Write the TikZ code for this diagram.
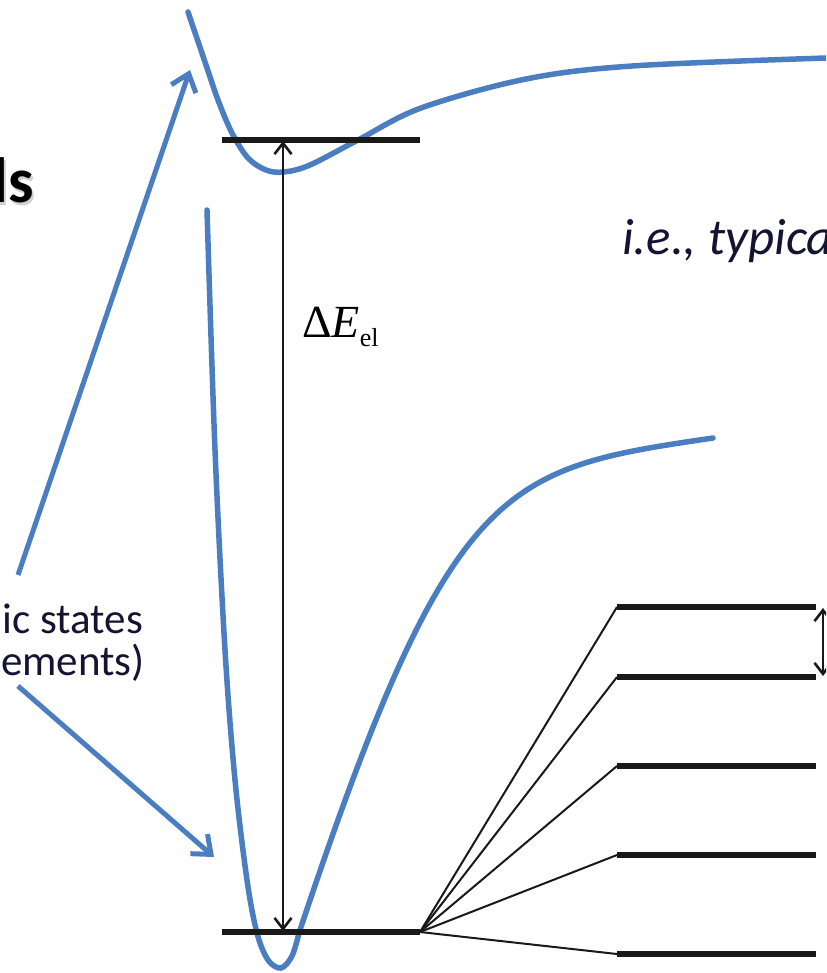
\documentclass[tikz,border=0pt]{standalone}
\usepackage{fontspec}
\setmainfont{Carlito}
\newfontfamily\timesfont{Liberation Serif}
\usetikzlibrary{arrows.meta}
\definecolor{potblue}{RGB}{74,126,193}
\definecolor{txtnavy}{RGB}{20,20,50}

\begin{document}
\begin{tikzpicture}[x=1pt,y=-1pt,
  pot/.style={potblue,line width=5.5pt,line cap=round,smooth,tension=0.55},
  level/.style={black!90,line width=5.5pt},
  fan/.style={black!90,line width=2pt},
  gap/.style={black!90,line width=2.6pt,{Straight Barb[length=11pt,width=17pt]}-{Straight Barb[length=11pt,width=17pt]}},
  pointer/.style={potblue,line width=5pt,-{Straight Barb[length=16pt,width=26pt]}},
  lbl/.style={inner sep=0pt,text=txtnavy,font=\fontsize{43}{48}\selectfont}]
  \useasboundingbox (0,0) rectangle (826,973);
  \clip (0,0) rectangle (826,973);
  % potential curves: excited (top) and ground (bottom)
  \draw[pot] plot coordinates {(188,12) (205,62) (218,100) (232,133) (248,158)
    (266,170) (284,172) (310,165) (358,140) (421,108) (526,79) (632,66) (826,58)};
  \draw[pot] plot coordinates {(207,210) (215,450) (225,650) (235,780) (247,880)
    (257,933) (268,960) (281,968) (292,956) (299,933)}
    .. controls (451,477) and (503,469) .. (713,438);
  % electronic levels and the gap between them
  \coordinate (exL) at (222,140); \coordinate (exR) at (420,140);
  \coordinate (gsL) at (222,932); \coordinate (gsR) at (420,932);
  \draw[level] (exL) -- (exR);
  \draw[level] (gsL) -- (gsR);
  \coordinate (gapTop) at (283,141); \coordinate (gapBot) at (283,931);
  \draw[gap] (gapBot) -- (gapTop);
  \node[lbl,anchor=base west,text=black,font=\fontsize{46}{50}\timesfont] (dE) at (302,337)
    {Δ\textit{E}\textsubscript{\fontsize{26}{28}\selectfont el}};
  % split-off levels on the right, fanned out from the ground level
  \foreach \y [count=\i] in {607,677,766,855,954} {
    \coordinate (sL\i) at (617,\y);
    \coordinate (sR\i) at (816,\y);
    \draw[level] (sL\i) -- (sR\i);
    \draw[fan] (gsR) -- (sL\i);
  }
  \coordinate (spTop) at (823,608); \coordinate (spBot) at (823,676);
  \draw[gap] (spTop) -- (spBot);
  % blue pointers from the label to both curves
  \coordinate (ptA) at (18,575); \coordinate (tipA) at (190,70);
  \coordinate (ptB) at (18,686); \coordinate (tipB) at (214,857);
  \draw[pointer] (ptA) -- (tipA);
  \draw[pointer] (ptB) -- (tipB);
  % texts cut by the frame
  \node[lbl,anchor=base east] (states) at (143,633) {ic states};
  \node[lbl,anchor=base east] (ments) at (145,675) {ements)};
  \node[lbl,anchor=base west,font=\fontsize{51}{56}\selectfont\itshape] (ie) at (622,255) {i.e., typica};
  \node[lbl,anchor=base east,text=black!18,font=\fontsize{64}{70}\selectfont\bfseries] at (36,206) {ls};
  \node[lbl,anchor=base east,text=black,font=\fontsize{64}{70}\selectfont\bfseries] (title) at (34,203) {ls};
\end{tikzpicture}
\end{document}
